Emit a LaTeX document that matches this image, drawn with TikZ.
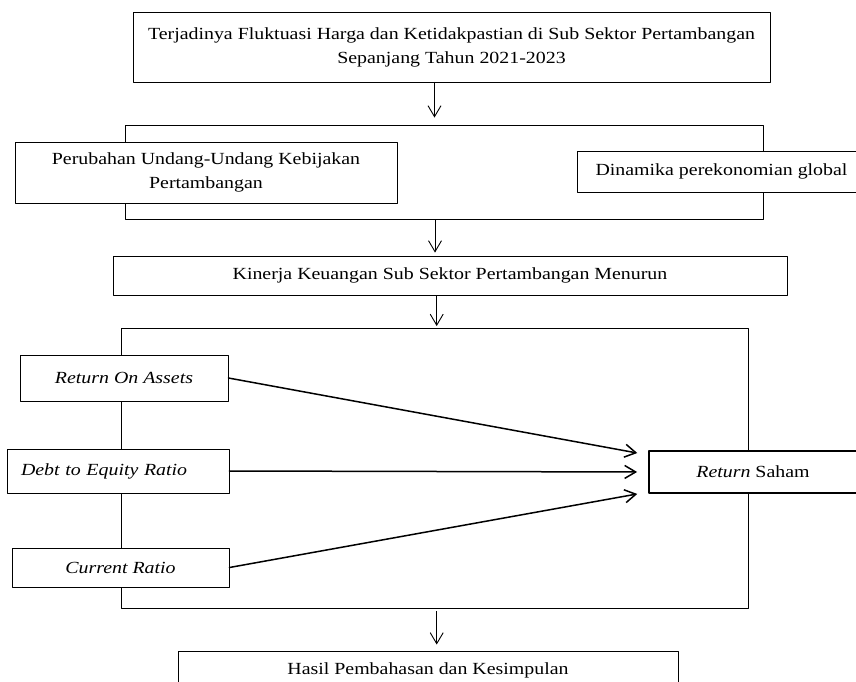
\documentclass[tikz,border=0pt]{standalone}
\usepackage{fontspec}
\setmainfont[FakeStretch=1.17]{Liberation Serif}
\usetikzlibrary{arrows.meta}
\begin{document}
\begin{tikzpicture}[x=1pt, y=-1pt, line join=round, line cap=round, font=\fontsize{17}{24}\selectfont,
	>={Straight Barb[length=11pt,width=13pt]},
	kotak/.style={draw, fill=white, line width=0.9pt, inner sep=0pt, align=center},
	bingkai/.style={draw, line width=0.9pt, inner sep=0pt},
	panah/.style={->, line width=0.9pt},
	panahtebal/.style={->, line width=1.5pt}]
	\useasboundingbox (0,0) rectangle (856,682);
	% bingkai kelompok
	\node[bingkai, minimum width=638, minimum height=94] (grupA) at (444,172) {};
	\node[bingkai, minimum width=627, minimum height=280] (grupB) at (434.5,468) {};
	% kotak
	\node[kotak, minimum width=637, minimum height=70] (fluktuasi) at (451.5,47) {Terjadinya Fluktuasi Harga dan Ketidakpastian di Sub Sektor Pertambangan\\Sepanjang Tahun 2021-2023};
	\node[kotak, minimum width=382, minimum height=61] (undang) at (206,172.5) {Perubahan Undang-Undang Kebijakan\\Pertambangan};
	\node[kotak, minimum width=289, minimum height=41] (global) at (721.5,171.5) {Dinamika perekonomian global};
	\node[kotak, minimum width=674, minimum height=39] (kinerja) at (450,275.5) {Kinerja Keuangan Sub Sektor Pertambangan Menurun};
	\node[kotak, minimum width=208, minimum height=46] (roa) at (124,378) {\itshape Return On Assets};
	\node[kotak, text width=194, inner xsep=14, align=left, minimum height=44] (der) at (118,471) {\itshape Debt to Equity Ratio};
	\node[kotak, minimum width=217, minimum height=39] (cr) at (120.5,567.5) {\itshape Current Ratio};
	\node[kotak, line width=1.8pt, minimum width=208, minimum height=42] (saham) at (753,472) {\textit{Return} Saham};
	\node[kotak, minimum width=500, minimum height=38] (hasil) at (428,670) {Hasil Pembahasan dan Kesimpulan};
	% panah
	\coordinate (p1) at (434.5,0);
	\coordinate (p2) at (435,0);
	\coordinate (p3) at (436.7,0);
	\draw[panah, shorten >=7] (fluktuasi.south -| p1) -- (grupA.north -| p1);
	\draw[panah, shorten >=3] (grupA.south -| p2) -- (kinerja.north -| p2);
	\draw[panah, shorten >=1.5] (kinerja.south -| p3) -- (grupB.north -| p3);
	\draw[panah, shorten <=3, shorten >=6] (grupB.south -| p3) -- (hasil.north -| p3);
	\draw[panahtebal, shorten >=11] (roa.east) -- ([yshift=17]saham.west);
	\draw[panahtebal, shorten >=11] (der.east) -- (saham.west);
	\draw[panahtebal, shorten >=11] (cr.east) -- ([yshift=-20]saham.west);
\end{tikzpicture}
\end{document}
